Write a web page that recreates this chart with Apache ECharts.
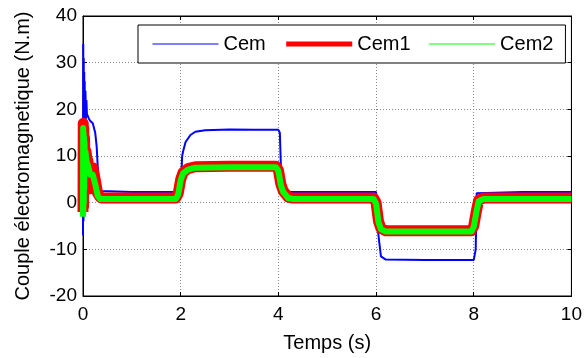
<!DOCTYPE html>
<html>
<head>
<meta charset="utf-8">
<script src="https://cdn.jsdelivr.net/npm/echarts@6/dist/echarts.min.js"></script>
<style>
  html, body { margin: 0; padding: 0; background: #fff; }
  #chart { width: 585px; height: 358px; }
</style>
</head>
<body>
<div id="chart"></div>
<script>
// donnees (temps en s, couple en N.m)
var xTicks = [0, 2, 4, 6, 8, 10];
var yTicks = [-20, -10, 0, 10, 20, 30, 40];

var tCem = [0, 0.005, 0.01, 0.015, 0.02, 0.025, 0.03, 0.035, 0.04, 0.05, 0.06, 0.07, 0.08, 0.1, 0.12, 0.15, 0.2, 0.25, 0.28, 0.3, 0.33, 0.36, 0.4, 1.0, 1.5, 2.0, 2.03, 2.05, 2.1, 2.2, 2.3, 2.5, 3.0, 3.5, 4.0, 4.03, 4.06, 4.1, 4.2, 5.0, 6.0, 6.03, 6.06, 6.1, 6.2, 7.0, 8.0, 8.04, 8.06, 8.1, 9.0, 10.0];
var cem  = [-7, 34, -4, 31, 2, 28, 10, 26, 14, 24, 18, 22, 19, 19, 18, 17.5, 17, 15, 12, 8, 4, 2.5, 2.3, 2.3, 2.3, 2.3, 10, 11, 13, 14.5, 15.2, 15.5, 15.7, 15.6, 15.6, 15, 5, 2.8, 2.3, 2.3, 2.3, -5, -8, -11.5, -12.2, -12.3, -12.3, -10, 2, 2.3, 2.3, 2.3];

var tCem1 = [0, 0.005, 0.01, 0.015, 0.02, 0.03, 0.04, 0.06, 0.08, 0.1, 0.12, 0.14, 0.17, 0.2, 0.25, 0.3, 0.35, 0.4, 1.0, 1.9, 1.95, 2.0, 2.05, 2.15, 2.3, 3.0, 3.95, 4.0, 4.05, 4.1, 4.2, 4.3, 5.0, 5.95, 6.0, 6.05, 6.1, 6.2, 7.0, 7.95, 8.0, 8.05, 8.1, 8.2, 9.0, 10.0];
var cem1  = [-2, 17, -1, 16, 2, 14, 10, 11, 9.5, 9, 5, 3, 7, 7.5, 5, 2, 1.2, 1, 1, 1, 2, 5, 6.5, 7.3, 7.7, 7.8, 7.8, 7, 4, 2.5, 1.2, 1, 1, 1, 0, -4, -5.5, -6, -6, -6, -5, -2, 0.5, 1, 1, 1];

var tCem2 = [0, 0.004, 0.008, 0.012, 0.016, 0.02, 0.025, 0.03, 0.04, 0.05, 0.07, 0.1, 0.15, 0.2, 0.25, 0.3, 0.35, 0.4, 1.0, 1.9, 1.95, 2.0, 2.05, 2.15, 2.3, 3.0, 3.95, 4.0, 4.05, 4.1, 4.2, 4.3, 5.0, 5.95, 6.0, 6.05, 6.1, 6.2, 7.0, 7.95, 8.0, 8.05, 8.1, 8.2, 9.0, 10.0];
var cem2  = [-3, 16, -2, 15, 0, 14, 3, 13, 8, 11, 9, 8, 6, 6, 4, 1.5, 0.8, 0.8, 0.8, 0.8, 1.8, 4.8, 6.3, 7.1, 7.5, 7.6, 7.6, 6.8, 3.8, 2.3, 1, 0.8, 0.8, 0.8, -0.2, -4.2, -5.7, -6.2, -6.2, -6.2, -5.2, -2.2, 0.3, 0.8, 0.8, 0.8];

function pairs(t, v) {
    var out = [];
    for (var i = 0; i < t.length; i++) out.push([t[i], v[i]]);
    return out;
}

var myChart = echarts.init(document.getElementById('chart'));
var font = '"Liberation Sans", Arial, sans-serif';

var option = {
    animation: false,
    textStyle: { fontFamily: font },
    grid: { left: 83, right: 13, top: 16, bottom: 60, show: true, borderColor: '#000', borderWidth: 1 },
    legend: {
        left: 138, top: 25,
        padding: [9, 12, 9, 14],
        itemWidth: 66, itemHeight: 14, itemGap: 18,
        backgroundColor: '#fff', borderColor: '#000', borderWidth: 1,
        itemStyle: { opacity: 0 },
        textStyle: { fontSize: 20, color: '#000', fontFamily: font },
        data: [
            { name: 'Cem', lineStyle: { width: 1 } },
            { name: 'Cem1', lineStyle: { width: 5 } },
            { name: 'Cem2', lineStyle: { width: 1 } }
        ]
    },
    xAxis: [{
        type: 'value', min: xTicks[0], max: xTicks[xTicks.length - 1], interval: 2,
        name: 'Temps (s)', nameLocation: 'middle', nameGap: 37,
        nameTextStyle: { fontSize: 20, color: '#000' },
        axisLine: { onZero: false, lineStyle: { color: '#000' } },
        axisTick: { inside: true, length: 4, lineStyle: { color: '#000' } },
        axisLabel: { fontSize: 19, color: '#000', margin: 9 },
        splitLine: { show: true, lineStyle: { color: '#888', type: [1, 2] } }
    }, {
        type: 'value', position: 'top', min: 0, max: 10, interval: 2,
        axisLine: { show: true, onZero: false, lineStyle: { color: '#000' } },
        axisTick: { inside: true, length: 4, lineStyle: { color: '#000' } },
        axisLabel: { show: false }, splitLine: { show: false }
    }],
    yAxis: [{
        type: 'value', min: yTicks[0], max: yTicks[yTicks.length - 1], interval: 10,
        name: 'Couple électromagnetique (N.m)', nameLocation: 'middle', nameGap: 50,
        nameTextStyle: { fontSize: 20, color: '#000' },
        axisLine: { show: true, onZero: false, lineStyle: { color: '#000' } },
        axisTick: { show: true, inside: true, length: 4, lineStyle: { color: '#000' } },
        axisLabel: { fontSize: 19, color: '#000', margin: 6 },
        splitLine: { show: true, lineStyle: { color: '#888', type: [1, 2] } }
    }, {
        type: 'value', position: 'right', min: -20, max: 40, interval: 10,
        axisLine: { show: true, onZero: false, lineStyle: { color: '#000' } },
        axisTick: { show: true, inside: true, length: 4, lineStyle: { color: '#000' } },
        axisLabel: { show: false }, splitLine: { show: false }
    }],
    series: [{
        name: 'Cem', type: 'line', symbol: 'none', color: '#0000ff',
        lineStyle: { width: 2, color: '#0000ff' },
        data: pairs(tCem, cem)
    }, {
        name: 'Cem1', type: 'line', symbol: 'none', color: '#ff0000',
        lineStyle: { width: 11, color: '#ff0000', join: 'round' },
        data: pairs(tCem1, cem1)
    }, {
        name: 'Cem2', type: 'line', symbol: 'none', color: '#00ff00',
        lineStyle: { width: 6, color: '#00ff00', join: 'round' },
        data: pairs(tCem2, cem2)
    }]
};
myChart.setOption(option);
</script>
</body>
</html>
